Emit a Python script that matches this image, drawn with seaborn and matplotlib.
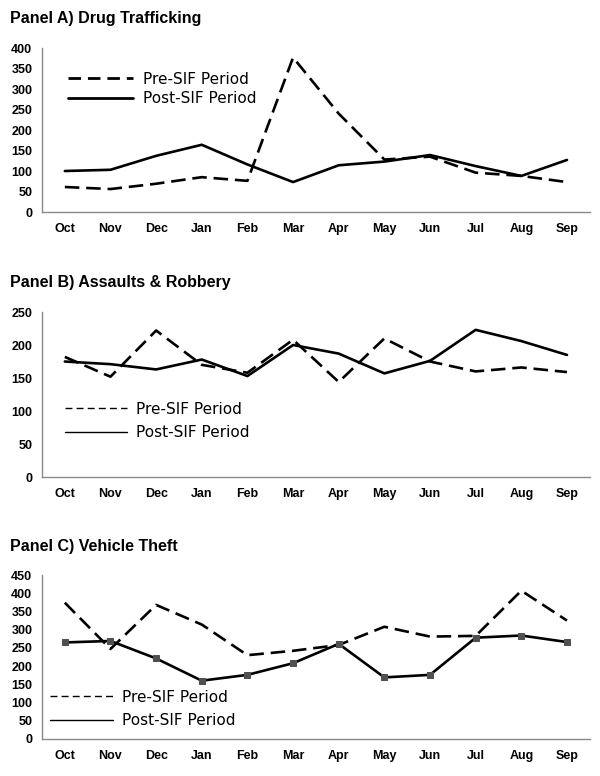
import matplotlib
matplotlib.use("Agg")
import matplotlib.pyplot as plt
from matplotlib.lines import Line2D
import seaborn as sns
import numpy as np

months = ["Oct", "Nov", "Dec", "Jan", "Feb", "Mar", "Apr", "May", "Jun", "Jul", "Aug", "Sep"]

# Panel A) Drug Trafficking
drug_pre = [61, 56, 69, 85, 76, 377, 240, 128, 135, 96, 88, 73]
drug_post = [100, 103, 137, 164, 116, 73, 114, 123, 139, 112, 88, 127]

# Panel B) Assaults & Robbery
assault_pre = [182, 152, 222, 170, 158, 208, 144, 210, 175, 160, 166, 159]
assault_post = [175, 171, 163, 178, 153, 200, 187, 157, 176, 223, 206, 185]

# Panel C) Vehicle Theft
vehicle_pre = [374, 247, 368, 314, 230, 242, 258, 308, 281, 283, 407, 325]
vehicle_post = [265, 269, 221, 160, 176, 208, 261, 169, 176, 278, 284, 266]

pre_label = "Pre-SIF Period"
post_label = "Post-SIF Period"

sns.set_theme(style="white")
plt.rcParams["font.family"] = ["Liberation Sans", "DejaVu Sans"]
plt.rcParams["text.color"] = "black"
plt.rcParams["xtick.labelcolor"] = "black"
plt.rcParams["ytick.labelcolor"] = "black"

GREY = "#8a8a8a"

fig = plt.figure(figsize=(6, 7.76), dpi=100)

paineis = [
    dict(titulo="Panel A) Drug Trafficking", pre=drug_pre, post=drug_post, ymax=400,
         rect=[0.07, 0.7268, 0.913, 0.2113], title_y=18,
         leg=(0.047, 0.75), leg_lw=2.0, leg_dash=(4.5, 2.5), leg_sp=0.3, leg_hl=4.3,
         post_ms=0),
    dict(titulo="Panel B) Assaults & Robbery", pre=assault_pre, post=assault_post, ymax=250,
         rect=[0.07, 0.3853, 0.913, 0.2126], title_y=282,
         leg=(0.042, 0.34), leg_lw=1.0, leg_dash=(5, 3), leg_sp=0.57, leg_hl=4.05,
         post_ms=0),
    dict(titulo="Panel C) Vehicle Theft", pre=vehicle_pre, post=vehicle_post, ymax=450,
         rect=[0.07, 0.0477, 0.913, 0.2113], title_y=546,
         leg=(0.0146, 0.183), leg_lw=1.0, leg_dash=(5, 3), leg_sp=0.57, leg_hl=4.1,
         post_ms=5),
]

for p in paineis:
    ax = fig.add_axes(p["rect"])
    sns.lineplot(x=months, y=p["pre"], sort=False, ax=ax, color="black", lw=1.9,
                 linestyle=(0, (5.5, 2.6)))
    if p["post_ms"]:
        sns.lineplot(x=months, y=p["post"], sort=False, ax=ax, color="black", lw=1.9,
                     marker="s", markersize=p["post_ms"],
                     markerfacecolor="#505050", markeredgecolor="#505050")
    else:
        sns.lineplot(x=months, y=p["post"], sort=False, ax=ax, color="black", lw=1.9)

    ax.set_xlim(-0.5, 11.5)
    ax.set_ylim(0, p["ymax"])
    ax.set_yticks(np.arange(0, p["ymax"] + 1, 50))
    ax.set_xticks(range(12))
    ax.set_xticklabels(months)
    ax.set_xticks(np.arange(-0.5, 12, 1), minor=True)
    ax.tick_params(axis="x", which="major", length=0, pad=8, labelsize=9)
    ax.tick_params(axis="x", which="minor", length=4, width=1, color=GREY, direction="out")
    ax.tick_params(axis="y", length=4, width=1, color=GREY, direction="out", pad=3, labelsize=9)
    for lab in ax.get_xticklabels() + ax.get_yticklabels():
        lab.set_fontweight("bold")
    ax.set_xlabel("")
    ax.set_ylabel("")
    sns.despine(ax=ax)
    for s in ["left", "bottom"]:
        ax.spines[s].set_color(GREY)
        ax.spines[s].set_linewidth(1.0)
    ax.grid(False)

    handles = [
        Line2D([], [], color="black", lw=p["leg_lw"], linestyle=(0, p["leg_dash"])),
        Line2D([], [], color="black", lw=p["leg_lw"]),
    ]
    ax.legend(handles, [pre_label, post_label], loc="center left",
              bbox_to_anchor=p["leg"], frameon=False, borderpad=0, borderaxespad=0,
              handlelength=p["leg_hl"], handletextpad=0.6, labelspacing=p["leg_sp"],
              prop={"family": "DejaVu Sans", "size": 11})

    fig.text(10 / 600, 1 - p["title_y"] / 776, p["titulo"], fontsize=11.5,
             fontweight="bold", va="center", ha="left")

fig.savefig("out.png", dpi=100)
